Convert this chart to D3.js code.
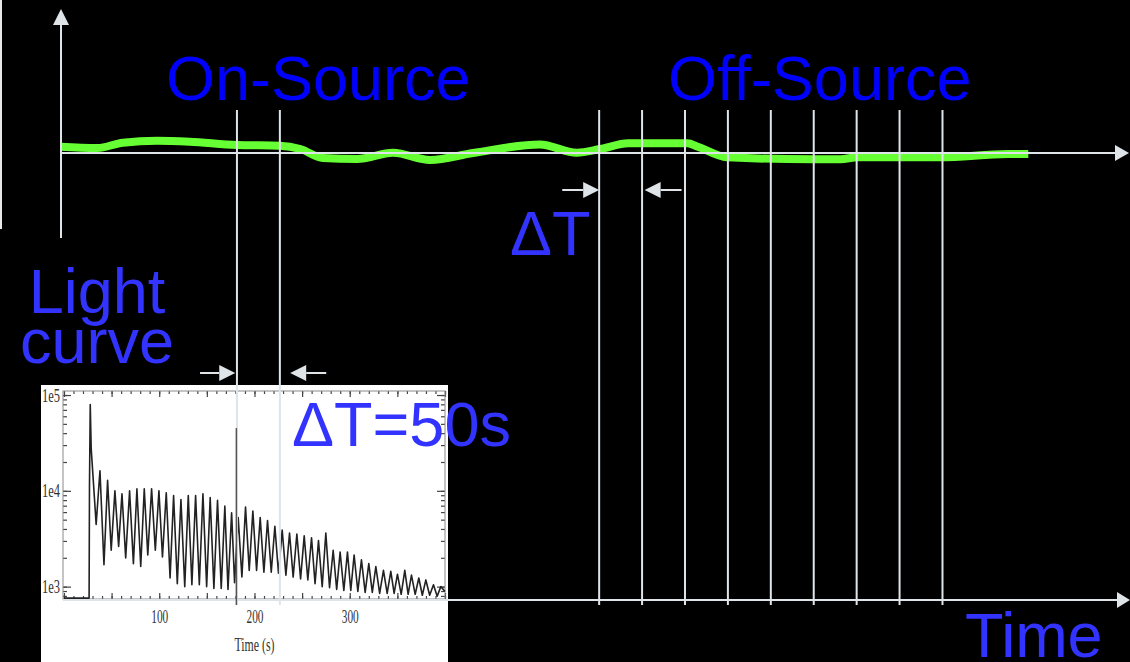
<!DOCTYPE html>
<html>
<head>
<meta charset="utf-8">
<script src="https://cdn.jsdelivr.net/npm/d3@7"></script>
<style>
  html, body { margin: 0; padding: 0; background: #000; }
  svg { display: block; }
  .big-label { font-family: 'Liberation Sans', Arial, Helvetica, sans-serif; font-size: 63px; }
  .inset text { font-family: 'Liberation Serif', 'DejaVu Serif', serif; fill: #333; }
</style>
</head>
<body>
<div id="diagram"></div>
<script>
// ---- main diagram (time in s along the axis, level in arbitrary units) ----
const onSourceEdges = [205, 255];
const offSourceEdges = [627, 677, 727, 777, 827, 877, 927, 977, 1027];

const greenTime = [-1, 42, 72, 112, 150, 205, 255, 279, 305, 345, 387, 430, 480, 558, 601, 628, 661, 730, 742, 776, 877, 908, 928, 1025, 1103, 1127];
const greenLevel = [6.3, 5, 10.3, 12.3, 11.3, 8, 7.3, 4, -5, -6, 0.3, -7, 0, 8.5, 0.3, 4, 9.7, 9.7, 6.3, -4.3, -6.3, -6.3, -4.3, -4.3, -1, -1];

// delta-T arrows: tail and tip in seconds
const arrowTail = [584, 723, 162, 309];
const arrowTip = [627, 680, 203, 267];
const arrowRow = ['top', 'top', 'bottom', 'bottom'];

// ---- inset light curve (time in s, log10 counts) ----
const burstTime = [0, 26.4, 26.8, 27.6, 28.6];
const burstLog = [2.88, 2.88, 4.05, 4.90, 4.44];
const dipTime = [33.8, 42.0, 49.6, 57.4, 64.8, 72.9, 80.6, 88.0, 95.9, 103.4,
  111.4, 119.0, 126.8, 134.3, 142.1, 149.8, 157.4, 165.1, 172.2, 179.1,
  186.8, 194.5, 202.2, 209.9, 217.6, 225.2, 233.0, 240.6, 248.4, 256.0,
  263.6, 271.1, 278.8, 286.3, 293.8, 301.1, 308.5, 316.2, 323.7, 331.4,
  339.3, 346.6, 354.0, 361.3, 368.7, 376.2, 383.9, 391.8];
const dipLog = [3.65, 3.23, 3.38, 3.42, 3.30, 3.24, 3.21, 3.33, 3.38, 3.31,
  3.09, 3.03, 3.00, 3.02, 3.02, 3.00, 2.98, 2.98, 2.97, 3.04,
  3.10, 3.17, 3.17, 3.15, 3.15, 3.14, 3.12, 3.10, 3.08, 3.07,
  3.03, 3.00, 2.99, 2.97, 2.96, 2.96, 2.95, 2.94, 2.94, 2.93,
  2.93, 2.93, 2.92, 2.92, 2.92, 2.91, 2.91, 2.90];
const peakTime = [37.8, 45.8, 53.5, 60.9, 68.9, 76.6, 84.3, 92.0, 99.7, 107.4,
  115.1, 122.8, 130.5, 138.2, 145.9, 153.5, 161.2, 168.9, 176.0, 182.9,
  190.6, 198.3, 206.0, 213.7, 221.4, 229.1, 236.8, 244.5, 252.2, 259.9,
  267.2, 274.9, 282.6, 289.9, 297.6, 304.6, 312.3, 320.0, 327.4, 335.4,
  343.1, 350.1, 357.8, 364.8, 372.5, 379.9, 387.9, 395.6];
const peakLog = [4.21, 4.11, 4.00, 3.97, 4.00, 4.02, 4.02, 4.02, 4.00, 3.98,
  3.95, 3.91, 3.95, 3.95, 3.97, 3.93, 3.90, 3.84, 3.77, 3.72,
  3.83, 3.79, 3.72, 3.69, 3.63, 3.59, 3.56, 3.55, 3.53, 3.51,
  3.48, 3.56, 3.38, 3.36, 3.36, 3.33, 3.28, 3.24, 3.21, 3.17,
  3.16, 3.13, 3.17, 3.12, 3.09, 3.07, 3.02, 3.00];
const tailTime = [400];
const tailLog = [2.95];
const insetXTicks = [100, 200, 300];
const insetYTicks = [1e3, 1e4, 1e5];
const triggerTime = 181;
const triggerLog = 4.655;

const W = 1130, H = 662;
const lineColor = '#dfe4e9';
const blue = '#0000ff';
const softBlue = '#3333ff';

const svg = d3.select('#diagram')
  .append('svg')
    .attr('width', W)
    .attr('height', H);

svg.append('rect')
    .attr('width', W)
    .attr('height', H)
    .attr('fill', '#000');

svg.append('rect')
    .attr('x', 0).attr('y', 0)
    .attr('width', 2).attr('height', 229)
    .attr('fill', '#e8e8e8');

const x = d3.scaleLinear().domain([0, 1228]).range([61, 1115]);
const level = d3.scaleLinear().domain([0, 10]).range([153, 143]);

const topRowY = 190;
const bottomRowY = 373;
const lowerAxisY = 600;
const binTop = 110;
const binBottom = 605;

function arrow(g, x1, y1, x2, y2, headLen, headHalf, color) {
  const a = Math.atan2(y2 - y1, x2 - x1);
  const bx = x2 - headLen * Math.cos(a);
  const by = y2 - headLen * Math.sin(a);
  g.append('line')
      .attr('x1', x1).attr('y1', y1)
      .attr('x2', bx).attr('y2', by)
      .attr('stroke', color)
      .attr('stroke-width', 2);
  const nx = -Math.sin(a) * headHalf, ny = Math.cos(a) * headHalf;
  g.append('path')
      .attr('d', 'M' + x2 + ',' + y2 + 'L' + (bx + nx) + ',' + (by + ny) + 'L' + (bx - nx) + ',' + (by - ny) + 'Z')
      .attr('fill', color);
}

// ---- inset light curve ----
const inset = svg.append('g').attr('class', 'inset');
const insetBox = { left: 41, top: 385, right: 448, bottom: 662 };
const plot = { left: 63, top: 391, right: 445, bottom: 599 };

inset.append('rect')
    .attr('x', insetBox.left)
    .attr('y', insetBox.top)
    .attr('width', insetBox.right - insetBox.left)
    .attr('height', insetBox.bottom - insetBox.top)
    .attr('fill', '#fff');

const xIn = d3.scaleLinear().domain([-1, 400]).range([plot.left, plot.right]);
const yIn = d3.scaleLog().domain([Math.pow(10, 2.871), Math.pow(10, 5.042)]).range([plot.bottom, plot.top]);

const minorY = yIn.ticks().filter((d) => d >= yIn.domain()[0]);
const minorX = d3.range(0, 401, 10);
const majorX = d3.range(0, 401, 50);

function styleAxis(g) {
  g.select('.domain').remove();
  g.selectAll('.tick line').attr('stroke', '#444').attr('stroke-width', 1.2);
}

inset.append('g')
    .attr('transform', 'translate(' + plot.left + ',0)')
    .call(d3.axisLeft(yIn).tickValues(minorY).tickSize(-4).tickFormat(''))
    .call(styleAxis);
inset.append('g')
    .attr('transform', 'translate(' + plot.right + ',0)')
    .call(d3.axisRight(yIn).tickValues(minorY).tickSize(-4).tickFormat(''))
    .call(styleAxis);
inset.append('g')
    .attr('transform', 'translate(' + plot.right + ',0)')
    .call(d3.axisRight(yIn).tickValues(insetYTicks).tickSize(-8).tickFormat(''))
    .call(styleAxis);
const yLabels = inset.append('g')
    .attr('transform', 'translate(' + plot.left + ',0)')
    .call(d3.axisLeft(yIn).tickValues(insetYTicks).tickSize(-8).tickPadding(3)
      .tickFormat((d) => '1e' + Math.round(Math.log10(d))))
    .call(styleAxis);
yLabels.selectAll('text')
    .attr('font-size', 19)
    .attr('textLength', 18)
    .attr('lengthAdjust', 'spacingAndGlyphs')
    .attr('fill', '#2a2a2a');

[['top', plot.top], ['bottom', plot.bottom]].forEach(([side, yPos]) => {
  const ax = side === 'top' ? d3.axisTop : d3.axisBottom;
  inset.append('g')
      .attr('transform', 'translate(0,' + yPos + ')')
      .call(ax(xIn).tickValues(minorX).tickSize(-3).tickFormat(''))
      .call(styleAxis);
  inset.append('g')
      .attr('transform', 'translate(0,' + yPos + ')')
      .call(ax(xIn).tickValues(majorX).tickSize(-6).tickFormat(''))
      .call(styleAxis);
});

const xLabels = inset.append('g')
    .attr('transform', 'translate(0,' + plot.bottom + ')')
    .call(d3.axisBottom(xIn).tickValues(insetXTicks).tickSize(0).tickPadding(11))
    .call(styleAxis);
xLabels.selectAll('text')
    .attr('font-size', 19)
    .attr('textLength', 17)
    .attr('lengthAdjust', 'spacingAndGlyphs')
    .attr('fill', '#2a2a2a');

inset.append('text')
    .attr('x', xIn(200))
    .attr('y', 651)
    .attr('text-anchor', 'middle')
    .attr('font-size', 19)
    .attr('textLength', 40)
    .attr('lengthAdjust', 'spacingAndGlyphs')
    .attr('fill', '#2a2a2a')
    .text('Time (s)');

inset.append('rect')
    .attr('x', plot.left)
    .attr('y', plot.top)
    .attr('width', plot.right - plot.left)
    .attr('height', plot.bottom - plot.top)
    .attr('fill', 'none')
    .attr('stroke', '#8a8a8a')
    .attr('stroke-width', 1);

const curvePoints = [];
burstTime.forEach((t, i) => curvePoints.push([t, burstLog[i]]));
dipTime.forEach((t, i) => {
  curvePoints.push([t, dipLog[i]]);
  curvePoints.push([peakTime[i], peakLog[i]]);
});
tailTime.forEach((t, i) => curvePoints.push([t, tailLog[i]]));

inset.append('path')
    .datum(curvePoints)
    .attr('fill', 'none')
    .attr('stroke', '#222')
    .attr('stroke-width', 1.6)
    .attr('stroke-linejoin', 'round')
    .attr('d', d3.line()
      .x((d) => xIn(d[0]))
      .y((d) => yIn(Math.pow(10, d[1]))));

// ---- green background level ----
svg.append('path')
    .datum(greenTime.map((t, i) => [t, greenLevel[i]]))
    .attr('fill', 'none')
    .attr('stroke', '#66ff33')
    .attr('stroke-width', 8)
    .attr('stroke-linecap', 'butt')
    .attr('d', d3.line()
      .x((d) => x(d[0]))
      .y((d) => level(d[1]))
      .curve(d3.curveMonotoneX));

// ---- axes ----
const axes = svg.append('g').attr('class', 'axes');
arrow(axes, x(0), 238, x(0), 9, 16, 8, lineColor);
arrow(axes, x(0), level(0), 1129, level(0), 14, 8, lineColor);
arrow(axes, plot.left, lowerAxisY, 1130, lowerAxisY, 13, 8, lineColor);

// ---- time bins ----
svg.append('g')
  .selectAll('line')
  .data(onSourceEdges.concat(offSourceEdges))
  .enter().append('line')
    .attr('x1', (d) => x(d))
    .attr('x2', (d) => x(d))
    .attr('y1', binTop)
    .attr('y2', binBottom)
    .attr('stroke', lineColor)
    .attr('stroke-width', 2);

// trigger marker inside the inset, drawn over the bin lines
svg.append('line')
    .attr('x1', xIn(triggerTime))
    .attr('x2', xIn(triggerTime))
    .attr('y1', yIn(Math.pow(10, triggerLog)))
    .attr('y2', binBottom)
    .attr('stroke', '#555')
    .attr('stroke-width', 1.5);

// ---- delta-T arrows ----
const arrowsG = svg.append('g');
arrowTail.forEach((t, i) => {
  const yRow = arrowRow[i] === 'top' ? topRowY : bottomRowY;
  arrow(arrowsG, x(t), yRow, x(arrowTip[i]), yRow, 16, 8, lineColor);
});

// ---- labels ----
const labels = svg.append('g').attr('class', 'big-label');
labels.append('text').attr('x', 166).attr('y', 100).attr('fill', blue).text('On-Source');
labels.append('text').attr('x', 668).attr('y', 100).attr('fill', blue).text('Off-Source');
labels.append('text').attr('x', 510).attr('y', 255).attr('fill', softBlue).text('\u0394T');
labels.append('text').attr('x', 292).attr('y', 446).attr('fill', softBlue).text('\u0394T=50s');
labels.append('text').attr('x', 97).attr('y', 313).attr('text-anchor', 'middle').attr('fill', softBlue).text('Light');
labels.append('text').attr('x', 97).attr('y', 363).attr('text-anchor', 'middle').attr('fill', softBlue).text('curve');
labels.append('text').attr('x', 965).attr('y', 657).attr('fill', softBlue).text('Time');
</script>
</body>
</html>
